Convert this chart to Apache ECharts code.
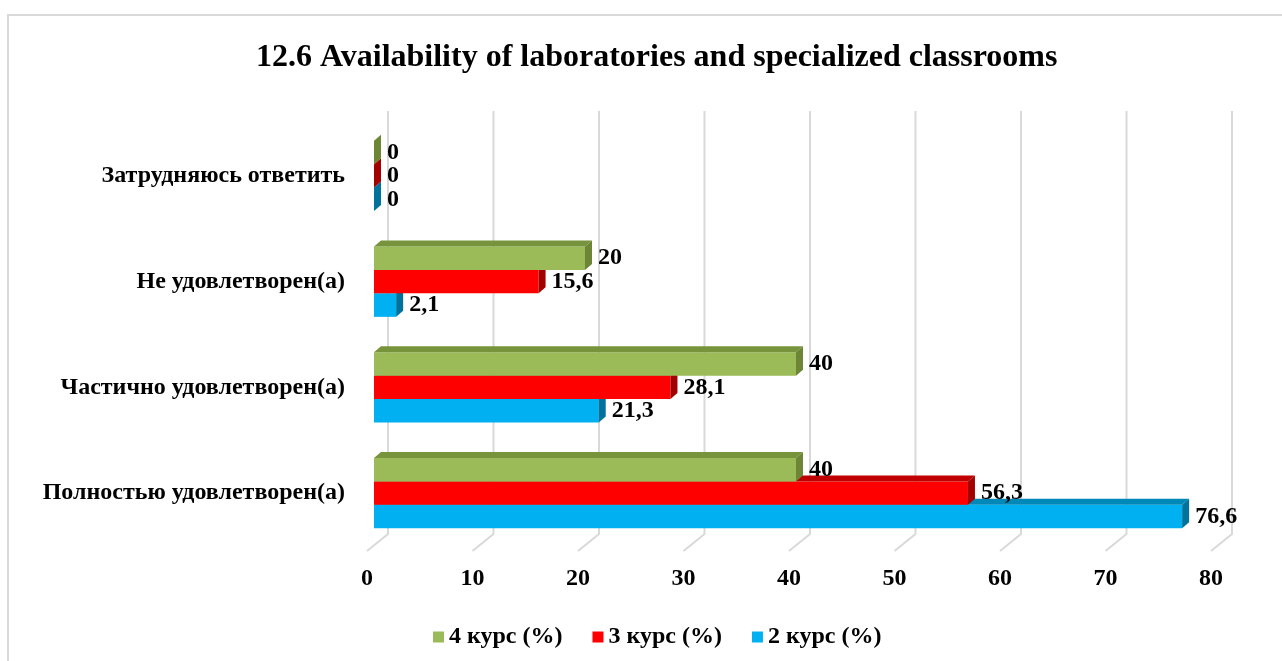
<!DOCTYPE html>
<html>
<head>
<meta charset="utf-8">
<script src="https://cdn.jsdelivr.net/npm/echarts@6/dist/echarts.min.js"></script>
<style>
  html, body { margin: 0; padding: 0; background: #fff; }
  #frame {
    position: absolute; left: 7px; top: 14px;
    width: 1400px; height: 800px;
    border: 2px solid #d9d9d9;
  }
  #chart { position: absolute; left: 0; top: 0; width: 1282px; height: 661px; }
</style>
</head>
<body>
<div id="frame"></div>
<div id="chart"></div>
<script>
// bottom -> top on the category axis
const categories = [
  'Полностью удовлетворен(а)',
  'Частично удовлетворен(а)',
  'Не удовлетворен(а)',
  'Затрудняюсь ответить'
]
const course2 = [76.6, 21.3, 2.1, 0]
const course3 = [56.3, 28.1, 15.6, 0]
const course4 = [40, 40, 20, 0]
const xTicks = [0, 10, 20, 30, 40, 50, 60, 70, 80]

const FONT = '"Liberation Serif", "Times New Roman", serif'
const DX = 7
const DY = 6

// front, top, side colours
const shades = {
  '2 курс (%)': ['#00b0f0', '#0088b9', '#00729c'],
  '3 курс (%)': ['#ff0000', '#c00000', '#a30000'],
  '4 курс (%)': ['#9bbb59', '#77933c', '#6c8636']
}

function barSeries(name, values, slot) {
  return {
    name: name,
    type: 'custom',
    itemStyle: { color: shades[name][0] },
    encode: { x: 1, y: 0 },
    data: values.map((v, i) => [i, v]),
    z: 3,
    renderItem: function (params, api) {
      const c = api.value(0)
      const v = api.value(1)
      const p0 = api.coord([0, c])
      const p1 = api.coord([v, c])
      const band = api.size([0, 1])[1]
      const h = band * 0.222
      const yc = p0[1] + slot * h
      const y0 = yc - h / 2
      const y1 = yc + h / 2
      const x0 = p0[0]
      const x1 = p1[0]
      const col = shades[name]
      return {
        type: 'group',
        children: [
          { type: 'rect', shape: { x: x0, y: y0, width: x1 - x0, height: h }, style: { fill: col[0] } },
          { type: 'polygon', shape: { points: [[x0, y0], [x0 + DX, y0 - DY], [x1 + DX, y0 - DY], [x1, y0]] }, style: { fill: col[1] } },
          { type: 'polygon', shape: { points: [[x1, y0], [x1 + DX, y0 - DY], [x1 + DX, y1 - DY], [x1, y1]] }, style: { fill: col[2] } },
          {
            type: 'text',
            style: {
              text: String(v).replace('.', ','),
              x: x1 + DX + 6, y: yc,
              fill: '#000',
              fontSize: 24, fontWeight: 'bold', fontFamily: FONT,
              verticalAlign: 'middle', align: 'left'
            }
          }
        ]
      }
    }
  }
}

const chart = echarts.init(document.getElementById('chart'))
chart.setOption({
  animation: false,
  title: {
    text: '12.6 Availability of laboratories and specialized classrooms',
    left: 251,
    top: 37,
    textStyle: { fontFamily: FONT, fontWeight: 'bold', fontSize: 32, color: '#000' }
  },
  legend: {
    data: ['4 курс (%)', '3 курс (%)', '2 курс (%)'],
    bottom: 7,
    left: 428,
    itemWidth: 11,
    itemHeight: 11,
    itemGap: 30,
    icon: 'rect',
    textStyle: { fontFamily: FONT, fontWeight: 'bold', fontSize: 24, color: '#000' }
  },
  grid: { left: 374, right: 64, top: 123, bottom: 115 },
  xAxis: {
    type: 'value',
    min: 0,
    max: 80,
    interval: 10,
    axisLine: { show: false },
    axisTick: { show: false },
    splitLine: { show: false },
    axisLabel: {
      margin: 21,
      padding: [0, 14, 0, 0],
      fontFamily: FONT, fontWeight: 'bold', fontSize: 24, color: '#000'
    }
  },
  yAxis: {
    type: 'category',
    data: categories,
    axisLine: { show: false },
    axisTick: { show: false },
    axisLabel: {
      margin: 29,
      fontFamily: FONT, fontWeight: 'bold', fontSize: 24, color: '#000'
    }
  },
  series: [
    {
      type: 'custom',
      name: 'grid',
      silent: true,
      z: 1,
      encode: { x: 0 },
      data: xTicks.map(t => [t]),
      renderItem: function (params, api) {
        const cs = params.coordSys
        const x = api.coord([api.value(0), 0])[0]
        const top = cs.y - 12
        const bot = cs.y + cs.height - 12
        return {
          type: 'polyline',
          shape: { points: [[x + 14, top], [x + 14, bot], [x - 7, bot + 17]] },
          style: { stroke: '#d9d9d9', lineWidth: 2, fill: null }
        }
      }
    },
    barSeries('2 курс (%)', course2, 1),
    barSeries('3 курс (%)', course3, 0),
    barSeries('4 курс (%)', course4, -1)
  ]
})
</script>
</body>
</html>
